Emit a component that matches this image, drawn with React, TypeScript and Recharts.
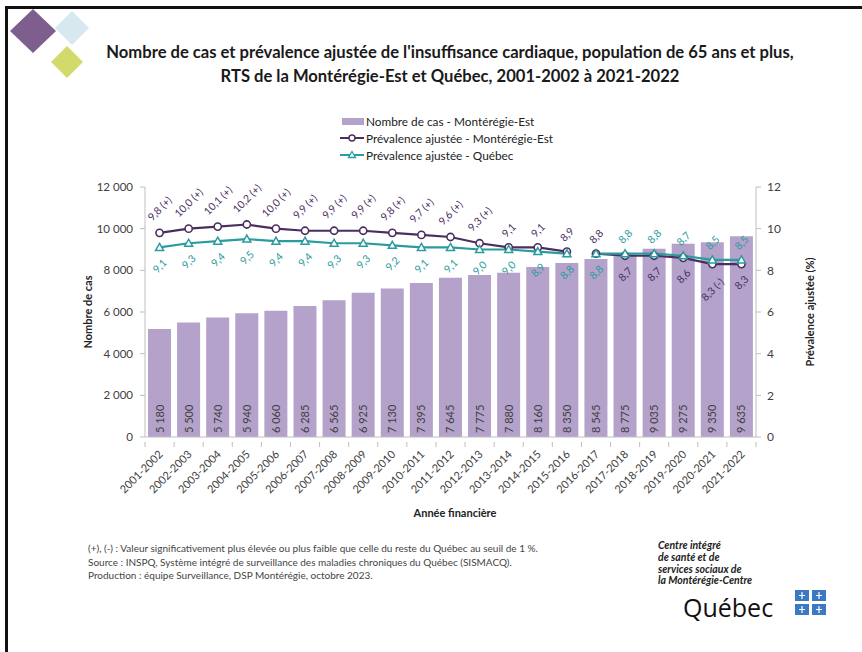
import { ComposedChart, Bar, Line, XAxis, YAxis, LabelList, Label } from 'recharts';

const years = [
  '2001-2002', '2002-2003', '2003-2004', '2004-2005', '2005-2006', '2006-2007', '2007-2008',
  '2008-2009', '2009-2010', '2010-2011', '2011-2012', '2012-2013', '2013-2014', '2014-2015',
  '2015-2016', '2016-2017', '2017-2018', '2018-2019', '2019-2020', '2020-2021', '2021-2022',
];
const casesME = [5180, 5500, 5740, 5940, 6060, 6285, 6565, 6925, 7130, 7395, 7645, 7775, 7880, 8160, 8350, 8545, 8775, 9035, 9275, 9350, 9635];
const prevME = [9.8, 10.0, 10.1, 10.2, 10.0, 9.9, 9.9, 9.9, 9.8, 9.7, 9.6, 9.3, 9.1, 9.1, 8.9, 8.8, 8.7, 8.7, 8.6, 8.3, 8.3];
const prevQC = [9.1, 9.3, 9.4, 9.5, 9.4, 9.4, 9.3, 9.3, 9.2, 9.1, 9.1, 9.0, 9.0, 8.9, 8.8, 8.8, 8.8, 8.8, 8.7, 8.5, 8.5];
const flagsME = ['(+)', '(+)', '(+)', '(+)', '(+)', '(+)', '(+)', '(+)', '(+)', '(+)', '(+)', '(+)', '', '', '', '', '', '', '', '(-)', ''];
const leftTicks = [0, 2000, 4000, 6000, 8000, 10000, 12000];
const rightTicks = [0, 2, 4, 6, 8, 10, 12];

// series are interrupted between 2015-2016 and 2016-2017
const SERIES_BREAK = 15;
// from this index on, Montérégie-Est labels go below and Québec labels above
const LABEL_SWAP = 16;

const BAR = '#b4a2cb';
const ME = '#4b2e5f';
const QC = '#2a9c9e';
const TXT = '#404040';
const FONT = 'Lato, "Open Sans", sans-serif';

const chartData = years.map((year, i) => ({
  year,
  cases: casesME[i],
  meA: i < SERIES_BREAK ? prevME[i] : null,
  meB: i >= SERIES_BREAK ? prevME[i] : null,
  qcA: i < SERIES_BREAK ? prevQC[i] : null,
  qcB: i >= SERIES_BREAK ? prevQC[i] : null,
}));

const spaced = (v: number) => String(v).replace(/\B(?=(\d{3})+(?!\d))/g, ' ');
const comma = (v: number) => v.toFixed(1).replace('.', ',');

function prevLabel(color: string, withFlags: boolean, above: (i: number) => boolean) {
  return (props: any) => {
    const { x, y, value, index } = props;
    if (value == null || y == null) return null;
    const flag = withFlags ? flagsME[index] : '';
    const text = comma(value) + (flag ? ' ' + flag : '');
    const half = text.length * 5 * 0.3536;
    const cy = above(index) ? y - 12 - half : y + 13 + half;
    return (
      <text x={x} y={cy} transform={`rotate(-45 ${x} ${cy})`} textAnchor="middle" dominantBaseline="central"
        fill={color} fontSize={10.5} fontFamily={FONT}>
        {text}
      </text>
    );
  };
}

function CircleDot(props: any) {
  const { cx, cy, index } = props;
  if (cy == null) return <g key={`c${index}`} />;
  return <circle key={`c${index}`} cx={cx} cy={cy} r={3.6} fill="#fff" stroke={ME} strokeWidth={1.6} />;
}

function TriangleDot(props: any) {
  const { cx, cy, index } = props;
  if (cy == null) return <g key={`t${index}`} />;
  return (
    <polygon key={`t${index}`} points={`${cx},${cy - 4} ${cx + 4},${cy + 3} ${cx - 4},${cy + 3}`}
      fill="#fff" stroke={QC} strokeWidth={1.5} />
  );
}

function BarValue(props: any) {
  const { x, y, width, height, value } = props;
  const tx = x + width / 2 + 4;
  const ty = y + height - 4;
  return (
    <text x={tx} y={ty} transform={`rotate(-90 ${tx} ${ty})`} fill={TXT} fontSize={11} fontFamily={FONT}>
      {spaced(value)}
    </text>
  );
}

function YearTick(props: any) {
  const { x, y, payload } = props;
  const half = payload.offset || 14.5;
  const last = payload.index === years.length - 1;
  return (
    <g>
      <line x1={x - half} x2={x - half} y1={y - 3} y2={y + 2} stroke="#bfbfbf" />
      {last && <line x1={x + half} x2={x + half} y1={y - 3} y2={y + 2} stroke="#bfbfbf" />}
      <text x={x + 4} y={y + 10} transform={`rotate(-45 ${x + 4} ${y + 10})`} textAnchor="end"
        fill={TXT} fontSize={11} fontFamily={FONT}>
        {payload.value}
      </text>
    </g>
  );
}

function LegendBox() {
  return (
    <svg width={280} height={62} style={{ position: 'absolute', left: 336, top: 106 }}>
      <rect x={6} y={12} width={22} height={7} fill={BAR} />
      <text x={30} y={19.5} fontSize={11.8} fill="#222" fontFamily={FONT}>Nombre de cas - Montérégie-Est</text>
      <line x1={4} x2={28} y1={32} y2={32} stroke={ME} strokeWidth={2} />
      <circle cx={16} cy={32} r={3} fill="#fff" stroke={ME} strokeWidth={1.4} />
      <text x={30} y={36.5} fontSize={11.8} fill="#222" fontFamily={FONT}>Prévalence ajustée - Montérégie-Est</text>
      <line x1={4} x2={28} y1={49} y2={49} stroke={QC} strokeWidth={2} />
      <polygon points="16,45.5 19.5,51.5 12.5,51.5" fill="#fff" stroke={QC} strokeWidth={1.3} />
      <text x={30} y={53.5} fontSize={11.8} fill="#222" fontFamily={FONT}>Prévalence ajustée - Québec</text>
    </svg>
  );
}

export default function App() {
  return (
    <div style={{ position: 'absolute', left: 0, top: 0, width: 862, height: 652, background: '#fff', overflow: 'hidden', fontFamily: FONT }}>
      <div style={{ position: 'absolute', left: 5, top: 6, right: 0, height: 3, background: '#111' }} />
      <div style={{ position: 'absolute', left: 5, top: 6, width: 3, bottom: 0, background: '#111' }} />
      <svg width={100} height={90} style={{ position: 'absolute', left: 0, top: 0 }}>
        <polygon points="72,11 89,28 72,45 55,28" fill="#d8e8f0" />
        <polygon points="33,9 56,31 33,53 10,31" fill="#7d5e8d" />
        <polygon points="67,46 83,62 67,78 51,62" fill="#d3da6c" />
      </svg>
      <div style={{ position: 'absolute', left: 0, width: 900, top: 40, textAlign: 'center', fontWeight: 700, fontSize: 16.6, lineHeight: '24px', color: '#1a1a1a' }}>
        Nombre de cas et prévalence ajustée de l'insuffisance cardiaque, population de 65 ans et plus,
        <br />
        RTS de la Montérégie-Est et Québec, 2001-2002 à 2021-2022
      </div>
      <LegendBox />
      <div style={{ position: 'absolute', left: 0, top: 0 }}>
        <ComposedChart width={862} height={652} data={chartData} margin={{ top: 187, right: 56, bottom: 145, left: 85 }} barSize={23}>
          <XAxis dataKey="year" height={70} interval={0} tickLine={false} axisLine={{ stroke: '#bfbfbf' }} tick={<YearTick />}>
            <Label content={() => (
              <text x={455} y={517} textAnchor="middle" fontWeight={700} fontSize={11} fill="#222" fontFamily={FONT}>Année financière</text>
            )} />
          </XAxis>
          <YAxis yAxisId="left" width={60} domain={[0, 12000]} ticks={leftTicks} tickFormatter={spaced}
            axisLine={{ stroke: '#bfbfbf' }} tickLine={{ stroke: '#bfbfbf' }} tickSize={5} tickMargin={7}
            tick={{ fill: TXT, fontSize: 11.5, fontFamily: FONT }}>
            <Label content={() => (
              <text x={92} y={312} transform="rotate(-90 92 312)" textAnchor="middle" fontWeight={700} fontSize={11} fill="#222" fontFamily={FONT}>Nombre de cas</text>
            )} />
          </YAxis>
          <YAxis yAxisId="right" orientation="right" width={50} domain={[0, 12]} ticks={rightTicks}
            axisLine={{ stroke: '#bfbfbf' }} tickLine={{ stroke: '#bfbfbf' }} tickSize={5} tickMargin={6}
            tick={{ fill: TXT, fontSize: 12, fontFamily: FONT }}>
            <Label content={() => (
              <text x={814} y={312} transform="rotate(-90 814 312)" textAnchor="middle" fontWeight={700} fontSize={11} fill="#222" fontFamily={FONT}>Prévalence ajustée (%)</text>
            )} />
          </YAxis>
          <Bar yAxisId="left" dataKey="cases" fill={BAR} isAnimationActive={false}>
            <LabelList dataKey="cases" content={<BarValue />} />
          </Bar>
          <Line yAxisId="right" dataKey="meA" stroke={ME} strokeWidth={2.2} dot={<CircleDot />} activeDot={false} isAnimationActive={false}>
            <LabelList dataKey="meA" content={prevLabel(ME, true, (i) => i < LABEL_SWAP)} />
          </Line>
          <Line yAxisId="right" dataKey="meB" stroke={ME} strokeWidth={2.2} dot={<CircleDot />} activeDot={false} isAnimationActive={false}>
            <LabelList dataKey="meB" content={prevLabel(ME, true, (i) => i < LABEL_SWAP)} />
          </Line>
          <Line yAxisId="right" dataKey="qcA" stroke={QC} strokeWidth={2.2} dot={<TriangleDot />} activeDot={false} isAnimationActive={false}>
            <LabelList dataKey="qcA" content={prevLabel(QC, false, (i) => i >= LABEL_SWAP)} />
          </Line>
          <Line yAxisId="right" dataKey="qcB" stroke={QC} strokeWidth={2.2} dot={<TriangleDot />} activeDot={false} isAnimationActive={false}>
            <LabelList dataKey="qcB" content={prevLabel(QC, false, (i) => i >= LABEL_SWAP)} />
          </Line>
        </ComposedChart>
      </div>
      <div style={{ position: 'absolute', left: 88, top: 542, fontSize: 10, lineHeight: '13.5px', color: '#444' }}>
        <div>(+), (-) : Valeur significativement plus élevée ou plus faible que celle du reste du Québec au seuil de 1 %.</div>
        <div>Source : INSPQ, Système intégré de surveillance des maladies chroniques du Québec (SISMACQ).</div>
        <div>Production : équipe Surveillance, DSP Montérégie, octobre 2023.</div>
      </div>
      <div style={{ position: 'absolute', left: 658, top: 540, fontSize: 10.5, lineHeight: '11.8px', fontWeight: 700, fontStyle: 'italic', color: '#222' }}>
        <div>Centre intégré</div>
        <div>de santé et de</div>
        <div>services sociaux de</div>
        <div>la Montérégie-Centre</div>
      </div>
      <div style={{ position: 'absolute', left: 683, top: 595, fontSize: 25, lineHeight: '25px', color: '#111', fontFamily: '"Open Sans", sans-serif' }}>
        Québec
      </div>
      <svg width={40} height={32} style={{ position: 'absolute', left: 792, top: 588 }}>
        <rect x={3} y={2} width={14} height={11} fill="#3b79c2" />
        <rect x={20} y={2} width={14} height={11} fill="#3b79c2" />
        <rect x={3} y={16} width={14} height={11} fill="#3b79c2" />
        <rect x={20} y={16} width={14} height={11} fill="#3b79c2" />
        <path d="M10,4 v7 M7,7.5 h6 M27,4 v7 M24,7.5 h6 M10,18 v7 M7,21.5 h6 M27,18 v7 M24,21.5 h6" stroke="#fff" strokeWidth={1.2} />
      </svg>
    </div>
  );
}
